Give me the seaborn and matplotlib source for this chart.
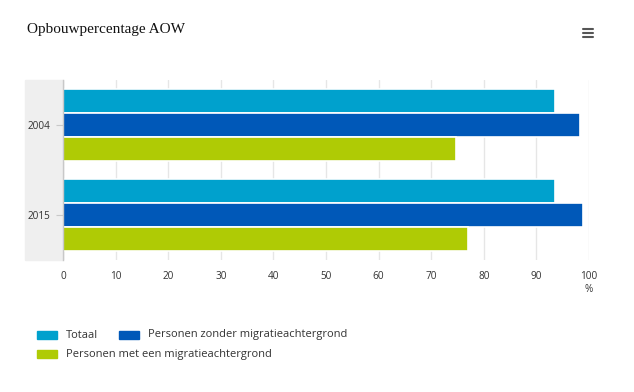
import matplotlib
matplotlib.use("Agg")
import matplotlib.pyplot as plt
import seaborn as sns
import pandas as pd
from matplotlib.patches import Rectangle
from matplotlib.lines import Line2D

years = ["2004", "2015"]
series = ["Totaal", "Personen zonder migratieachtergrond", "Personen met een migratieachtergrond"]
totaal = [93.5, 93.5]
zonder = [98.3, 98.8]
met = [74.8, 77.0]
colors = ["#00a1cd", "#0058b8", "#afcb05"]

rows = []
for i, y in enumerate(years):
    for s, vals in zip(series, [totaal, zonder, met]):
        rows.append({"jaar": y, "groep": s, "waarde": vals[i]})
df = pd.DataFrame(rows)

sns.set_theme(style="white")
plt.rcParams["font.family"] = ["Open Sans", "DejaVu Sans"]

W, H = 634, 392
fig = plt.figure(figsize=(W / 100, H / 100), dpi=100)
x0, x1, yt, yb = 63, 589, 80, 260
ax = fig.add_axes([x0 / W, 1 - yb / H, (x1 - x0) / W, (yb - yt) / H])

# grey label band
fig.patches.append(Rectangle((25 / W, 1 - yb / H), (x0 - 25) / W, (yb - yt) / H,
                             transform=fig.transFigure, color="#efefef", zorder=-5))

sns.barplot(data=df, y="jaar", x="waarde", hue="groep", hue_order=series,
            palette=colors, saturation=1, orient="h", width=0.8, ax=ax,
            edgecolor="white", linewidth=1.2, legend=False)

ax.set_xlim(0, 100)
ax.set_xticks(range(0, 101, 10))
ax.xaxis.grid(True, color="#e6e6e6", linewidth=1)
ax.set_axisbelow(True)
for sp in ["top", "right", "bottom"]:
    ax.spines[sp].set_visible(False)
ax.spines["left"].set_color("#c8c8c8")
ax.spines["left"].set_linewidth(1)
ax.set_xlabel("")
ax.set_ylabel("")
ax.tick_params(axis="x", length=0, pad=8, labelsize=7.2, labelcolor="#333333")
ax.tick_params(axis="y", length=5, width=0.8, color="#c8c8c8", pad=4,
               labelsize=7.2, labelcolor="#333333", left=True)
ax.patch.set_alpha(0)

fig.text(589 / W, 1 - 290 / H, "%", ha="center", va="center", fontsize=7.2, color="#333333")

fig.text(27 / W, 1 - 30 / H, "Opbouwpercentage AOW", ha="left", va="center",
         fontsize=11, family=["Liberation Serif", "DejaVu Serif"], color="#111111")

# hamburger icon
for yy in [29, 33, 37]:
    fig.lines.append(Line2D([583 / W, 593 / W], [1 - yy / H, 1 - yy / H],
                            transform=fig.transFigure, color="#555555", linewidth=1.5))

# legend
leg = [(37, 335, 66, series[0], colors[0]), (119, 335, 148, series[1], colors[1]),
       (37, 354, 66, series[2], colors[2])]
for px, py, tx, label, c in leg:
    fig.patches.append(Rectangle((px / W, 1 - (py + 4) / H), 20 / W, 8 / H,
                                 transform=fig.transFigure, color=c))
    fig.text(tx / W, 1 - py / H, label, ha="left", va="center", fontsize=8, color="#333333")

fig.savefig("out.png", dpi=100)
